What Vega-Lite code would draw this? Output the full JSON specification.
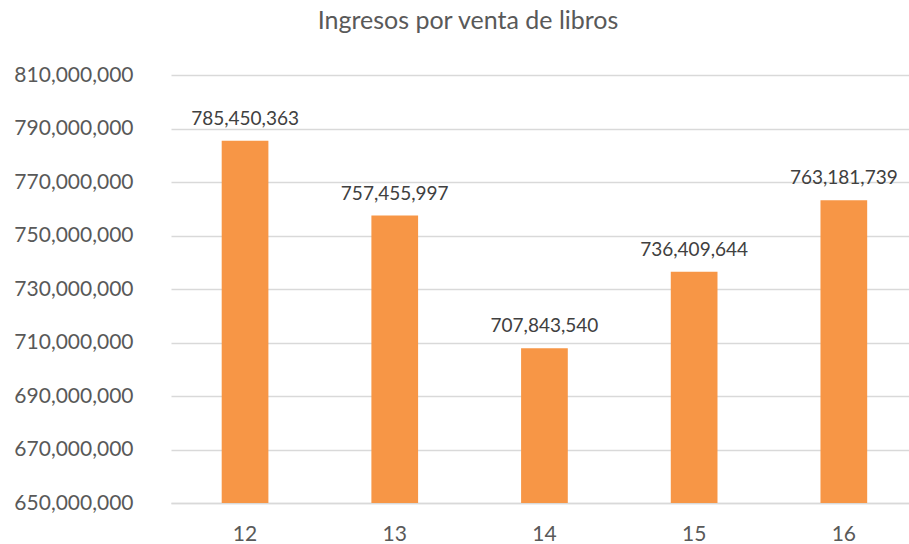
{
  "$schema": "https://vega.github.io/schema/vega-lite/v6.json",
  "width": 738,
  "height": 428,
  "autosize": {"type": "none"},
  "padding": {"left": 171, "top": 75, "right": 0, "bottom": 41},
  "background": "white",
  "title": {
    "text": "Ingresos por venta de libros",
    "font": "Lato",
    "fontSize": 25,
    "fontWeight": "normal",
    "color": "#595959",
    "anchor": "middle",
    "frame": "group",
    "dx": -72,
    "offset": 30
  },
  "data": {
    "values": [
      {"mes": "12", "ingresos": 785450363},
      {"mes": "13", "ingresos": 757455997},
      {"mes": "14", "ingresos": 707843540},
      {"mes": "15", "ingresos": 736409644},
      {"mes": "16", "ingresos": 763181739}
    ]
  },
  "config": {
    "view": {"stroke": null},
    "font": "Lato"
  },
  "encoding": {
    "x": {
      "field": "mes",
      "type": "nominal",
      "sort": null,
      "scale": {"paddingInner": 0.688, "paddingOuter": 0.309, "align": 0.548},
      "axis": {
        "title": null,
        "labelAngle": 0,
        "labelFontSize": 21,
        "labelColor": "#595959",
        "labelPadding": 20,
        "ticks": false,
        "domainColor": "#D9D9D9",
        "domainWidth": 1.3,
        "grid": false
      }
    },
    "y": {
      "field": "ingresos",
      "type": "quantitative",
      "scale": {"domain": [650000000, 810000000], "nice": false, "zero": false},
      "axis": {
        "title": null,
        "values": [650000000, 670000000, 690000000, 710000000, 730000000, 750000000, 770000000, 790000000, 810000000],
        "format": ",d",
        "labelFontSize": 21,
        "labelColor": "#595959",
        "labelPadding": 38,
        "ticks": false,
        "domain": false,
        "gridColor": "#D9D9D9",
        "gridWidth": 1.3
      }
    }
  },
  "layer": [
    {
      "mark": {"type": "bar", "color": "#F79646"},
      "encoding": {"y2": {"datum": 650000000}}
    },
    {
      "mark": {
        "type": "text",
        "baseline": "bottom",
        "dy": -12,
        "fontSize": 19,
        "color": "#404040"
      },
      "encoding": {
        "text": {"field": "ingresos", "type": "quantitative", "format": ",d"}
      }
    }
  ]
}
